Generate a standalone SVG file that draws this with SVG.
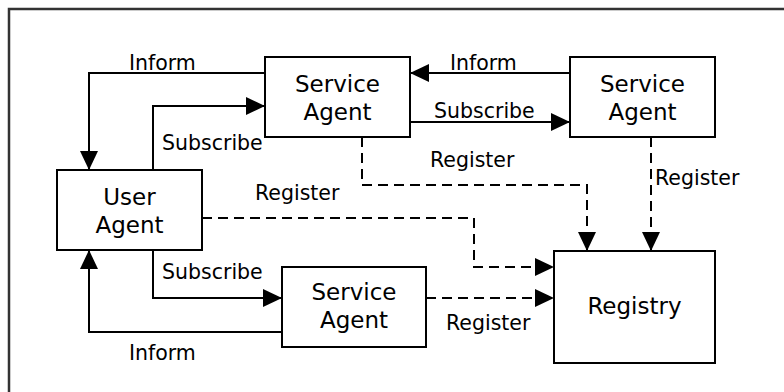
<svg xmlns="http://www.w3.org/2000/svg" width="784" height="392" viewBox="0 0 784 392">
<style>
.box{fill:#fff;stroke:#000;stroke-width:2}
.ntext{font-family:"DejaVu Sans",Verdana,sans-serif;font-size:23px;fill:#000;text-anchor:middle}
.lbl{font-family:"DejaVu Sans",Verdana,sans-serif;font-size:20.5px;fill:#000}
.ln{fill:none;stroke:#000;stroke-width:2}
.dash{stroke-dasharray:10 6}
</style>
<defs>
<marker id="ah" viewBox="0 0 19 18" refX="19" refY="9" markerWidth="19" markerHeight="18" markerUnits="userSpaceOnUse" orient="auto">
<path d="M0,0 L19,9 L0,18 z" fill="#000"/>
</marker>
</defs>
<rect width="784" height="392" fill="#fff"/>
<g id="frame">
<path d="M9,392 V9 H784" fill="none" stroke="#333" stroke-width="2.5"/>
</g>
<g id="connectors">
<path class="ln" d="M265,73 H89 V170" marker-end="url(#ah)"/>
<path class="ln" d="M153,170 V106 H265" marker-end="url(#ah)"/>
<path class="ln" d="M570,73 H410" marker-end="url(#ah)"/>
<path class="ln" d="M410,122 H570" marker-end="url(#ah)"/>
<path class="ln dash" d="M362,137 V185 H587 V251" marker-end="url(#ah)"/>
<path class="ln dash" d="M651,137 V251" marker-end="url(#ah)"/>
<path class="ln dash" d="M202,218 H474 V267 H554" marker-end="url(#ah)"/>
<path class="ln dash" d="M426,298 H554" marker-end="url(#ah)"/>
<path class="ln" d="M153,250 V298 H282" marker-end="url(#ah)"/>
<path class="ln" d="M282,332 H89 V250" marker-end="url(#ah)"/>
<text class="lbl" x="129" y="70">Inform</text>
<text class="lbl" x="162" y="150">Subscribe</text>
<text class="lbl" x="450" y="70">Inform</text>
<text class="lbl" x="434" y="118">Subscribe</text>
<text class="lbl" x="430" y="167">Register</text>
<text class="lbl" x="655" y="185">Register</text>
<text class="lbl" x="255" y="200">Register</text>
<text class="lbl" x="446" y="330">Register</text>
<text class="lbl" x="162" y="279">Subscribe</text>
<text class="lbl" x="129" y="360">Inform</text>
</g>
<g id="service-agent-1">
<rect class="box" x="265" y="57" width="145" height="80"/>
<text class="ntext" x="337.5" y="92">Service</text>
<text class="ntext" x="337.5" y="120">Agent</text>
</g>
<g id="service-agent-2">
<rect class="box" x="570" y="57" width="145" height="80"/>
<text class="ntext" x="642.5" y="92">Service</text>
<text class="ntext" x="642.5" y="120">Agent</text>
</g>
<g id="user-agent">
<rect class="box" x="57" y="170" width="145" height="80"/>
<text class="ntext" x="129.5" y="205">User</text>
<text class="ntext" x="129.5" y="233">Agent</text>
</g>
<g id="service-agent-3">
<rect class="box" x="282" y="267" width="144" height="80"/>
<text class="ntext" x="354" y="300">Service</text>
<text class="ntext" x="354" y="328">Agent</text>
</g>
<g id="registry">
<rect class="box" x="554" y="251" width="161" height="112"/>
<text class="ntext" x="634.5" y="314">Registry</text>
</g>
</svg>
